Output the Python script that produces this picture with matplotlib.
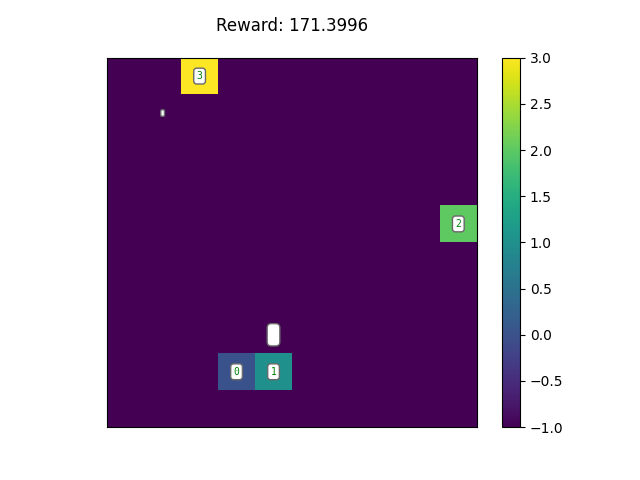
import numpy as np
import matplotlib
matplotlib.use("Agg")
import matplotlib.pyplot as plt

# grid state: -1 empty, agents 0..3
grid_size = 10
agent_ids = [0, 1, 2, 3]
agent_rows = [8, 8, 4, 0]
agent_cols = [3, 4, 9, 2]
# empty markers (row, col, fontsize)
blank_rows = [1, 7]
blank_cols = [1, 4]
blank_sizes = [3, 10]
reward = 171.3996

grid = np.full((grid_size, grid_size), -1.0)
for a, r, c in zip(agent_ids, agent_rows, agent_cols):
    grid[r, c] = a

fig, ax = plt.subplots(figsize=(6.4, 4.8), dpi=100)
im = ax.imshow(grid, cmap='viridis', vmin=-1, vmax=3)
fig.colorbar(im, ax=ax)

box = dict(boxstyle='round', facecolor='white', edgecolor='dimgrey')
for a, r, c in zip(agent_ids, agent_rows, agent_cols):
    ax.text(c, r, str(a), ha='center', va='center', color='green',
            fontsize=7, family='DejaVu Sans Mono', bbox=box)
for r, c, s in zip(blank_rows, blank_cols, blank_sizes):
    ax.text(c, r, ' ', ha='center', va='center', fontsize=s, bbox=box)

ax.set_xticks([])
ax.set_yticks([])
ax.set_title(f'Reward: {reward}', pad=19)

plt.savefig('out.png')
